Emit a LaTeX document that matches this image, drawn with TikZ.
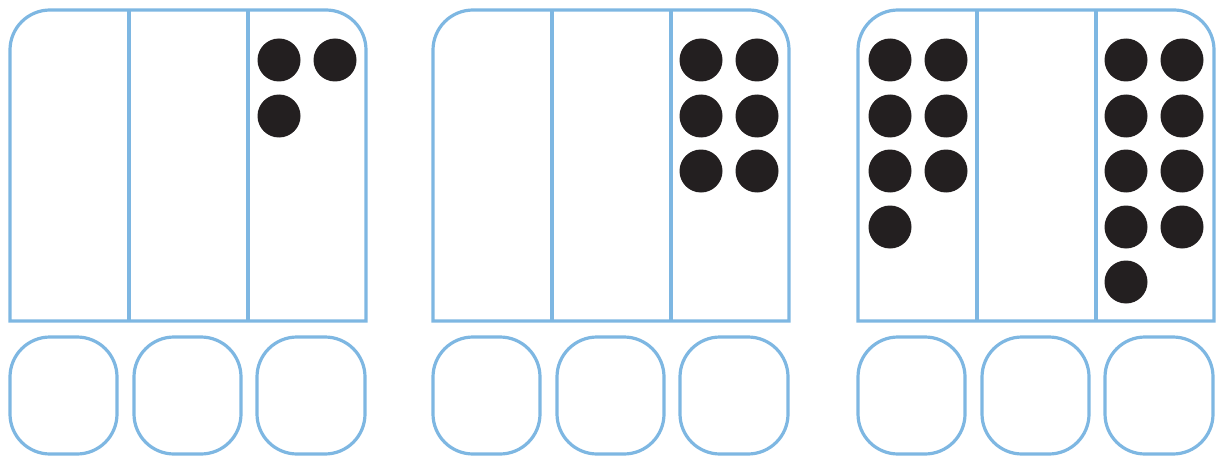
\documentclass[tikz,border=0pt]{standalone}
\usepackage{tikz}
\definecolor{chartblue}{RGB}{126,183,226}
\definecolor{dotblack}{RGB}{35,31,32}

\begin{document}
\begin{tikzpicture}[x=0.5pt, y=0.5pt,
    frame/.style={draw=chartblue, line width=1.6pt},
    counter/.style={fill=dotblack}]
    \useasboundingbox (0,0) rectangle (1224,456);
    % three place value charts with their answer boxes
    \foreach \a in {10,433,858} {
      \draw[frame] (\a,135) -- (\a,406) arc (180:90:40) -- (\a+316,446)
        arc (90:0:40) -- (\a+356,135) -- cycle;
      \draw[frame] (\a+119,135) -- (\a+119,446);
      \draw[frame] (\a+238,135) -- (\a+238,446);
      \draw[frame, rounded corners=20pt] (\a,119) rectangle (\a+107,2);
      \draw[frame, rounded corners=20pt] (\a+124,119) rectangle (\a+231,2);
      \draw[frame, rounded corners=20pt] (\a+247,119) rectangle (\a+355,2);
    }
    % counters
    \foreach \x/\y in {279/396,335/396,279/340}
      \fill[counter] (\x,\y) circle (21.5);
    \foreach \x/\y in {701/396,757/396,701/340,757/340,701/285,757/285}
      \fill[counter] (\x,\y) circle (21.5);
    \foreach \x/\y in {890/396,946/396,890/340,946/340,890/285,946/285,890/229}
      \fill[counter] (\x,\y) circle (21.5);
    \foreach \x/\y in {1126/396,1182/396,1126/340,1182/340,1126/285,1182/285,
                       1126/229,1182/229,1126/174}
      \fill[counter] (\x,\y) circle (21.5);
  \end{tikzpicture}
\end{document}
